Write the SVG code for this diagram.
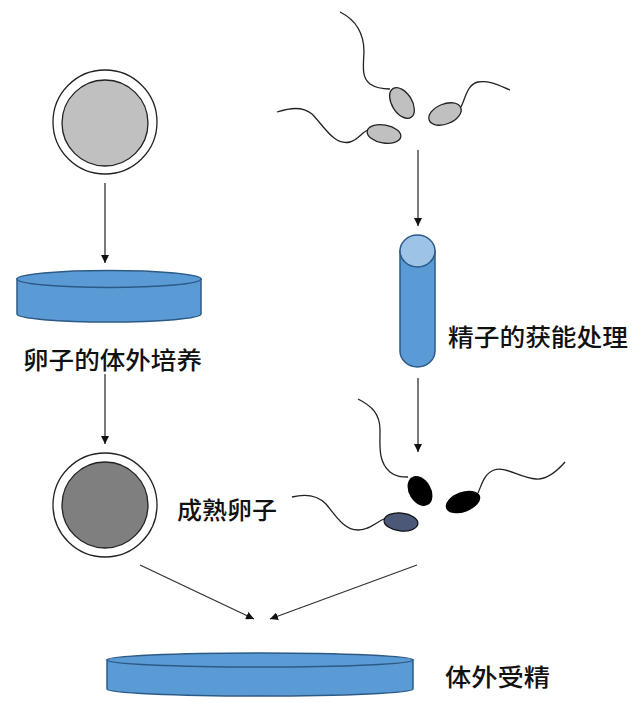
<svg xmlns="http://www.w3.org/2000/svg" width="640" height="703" viewBox="0 0 640 703">
<defs>
<marker id="arr" viewBox="0 0 10 10" refX="10" refY="5" markerWidth="8" markerHeight="8" markerUnits="userSpaceOnUse" orient="auto">
<path d="M0,0 L10,5 L0,10 z" fill="#111"/>
</marker>
<style>
.lbl{font-family:"Noto Sans CJK SC","Noto Sans CJK TC",sans-serif;font-size:24px;font-weight:500;fill:#111}
.conn{stroke:#333;stroke-width:1.3;fill:none;marker-end:url(#arr)}
.tail{stroke:#222;stroke-width:1.3;fill:none}
.blue{fill:#5b9bd5;stroke:#2c5a86;stroke-width:1.5}
.ring{fill:#fff;stroke:#222;stroke-width:1.3}
</style>
</defs>
<rect width="640" height="703" fill="#fff"/>

<g id="connectors">
<line class="conn" x1="105" y1="183" x2="105" y2="263"/>
<line class="conn" x1="105" y1="374" x2="105" y2="444"/>
<line class="conn" x1="418" y1="150" x2="418" y2="226"/>
<line class="conn" x1="418" y1="378" x2="418" y2="452"/>
<line class="conn" x1="140" y1="565" x2="254" y2="619"/>
<line class="conn" x1="417" y1="565" x2="270" y2="619"/>
</g>

<g id="egg-immature">
<circle class="ring" cx="105" cy="122" r="52"/>
<circle cx="105" cy="123" r="43" fill="#c0c0c0" stroke="#222" stroke-width="1.3"/>
</g>

<g id="sperm-top">
<path class="tail" d="M340,12 C356,20 364,34 364,52 C363,68 362,78 370,84 C376,88 384,89 390,89"/>
<ellipse cx="402" cy="103" rx="17" ry="10" transform="rotate(58 402 103)" fill="#c0c0c0" stroke="#222" stroke-width="1.3"/>
<path class="tail" d="M461,107 C466,96 468,84 478,82 C490,80 500,86 510,90"/>
<ellipse cx="445" cy="114" rx="17" ry="10" transform="rotate(-22 445 114)" fill="#c0c0c0" stroke="#222" stroke-width="1.3"/>
<path class="tail" d="M277,112 C290,108 302,106 312,114 C324,126 334,146 350,142 C358,140 362,132 368,130"/>
<ellipse cx="384" cy="134" rx="17" ry="9" transform="rotate(10 384 134)" fill="#c0c0c0" stroke="#222" stroke-width="1.3"/>
</g>

<g id="dish-culture">
<path class="blue" d="M17,279 L17,314 A92,8 0 0 0 201,314 L201,279 Z"/>
<ellipse class="blue" cx="109" cy="279" rx="92" ry="8.5"/>
</g>
<text class="lbl" x="23" y="369" textLength="179" lengthAdjust="spacingAndGlyphs">卵子的体外培养</text>

<g id="capacitation-tube">
<path class="blue" d="M400,251 L400,351 A17.5,16 0 0 0 435,351 L435,251 Z"/>
<ellipse cx="417.5" cy="251" rx="17.5" ry="16" fill="#9dc3e6" stroke="#2c5a86" stroke-width="1.5"/>
</g>
<text class="lbl" x="448" y="346" textLength="180" lengthAdjust="spacingAndGlyphs">精子的获能处理</text>

<g id="egg-mature">
<circle class="ring" cx="105" cy="505" r="52"/>
<circle cx="105" cy="505" r="43" fill="#7f7f7f" stroke="#222" stroke-width="1.3"/>
</g>
<text class="lbl" x="177" y="519" textLength="100" lengthAdjust="spacingAndGlyphs">成熟卵子</text>

<g id="sperm-capacitated">
<path class="tail" d="M358,399 C372,406 380,414 380,430 C380,446 378,462 390,472 C396,477 402,477 408,477"/>
<ellipse cx="420" cy="491" rx="16" ry="11" transform="rotate(60 420 491)" fill="#000"/>
<path class="tail" d="M478,493 C482,484 484,474 494,470 C506,466 520,478 536,479 C548,480 558,470 565,462"/>
<ellipse cx="463" cy="502" rx="18" ry="10" transform="rotate(-20 463 502)" fill="#000"/>
<path class="tail" d="M292,497 C304,494 316,494 326,504 C336,516 344,530 358,530 C370,530 376,522 386,518"/>
<ellipse cx="401" cy="522" rx="17" ry="9" transform="rotate(6 401 522)" fill="#4b5878" stroke="#111" stroke-width="1.2"/>
</g>

<g id="dish-fertilization">
<path class="blue" d="M107,660 L107,689 A153,7 0 0 0 413,689 L413,660 Z"/>
<ellipse class="blue" cx="260" cy="660" rx="153" ry="7"/>
</g>
<text class="lbl" x="445" y="686" textLength="105" lengthAdjust="spacingAndGlyphs">体外受精</text>
</svg>
